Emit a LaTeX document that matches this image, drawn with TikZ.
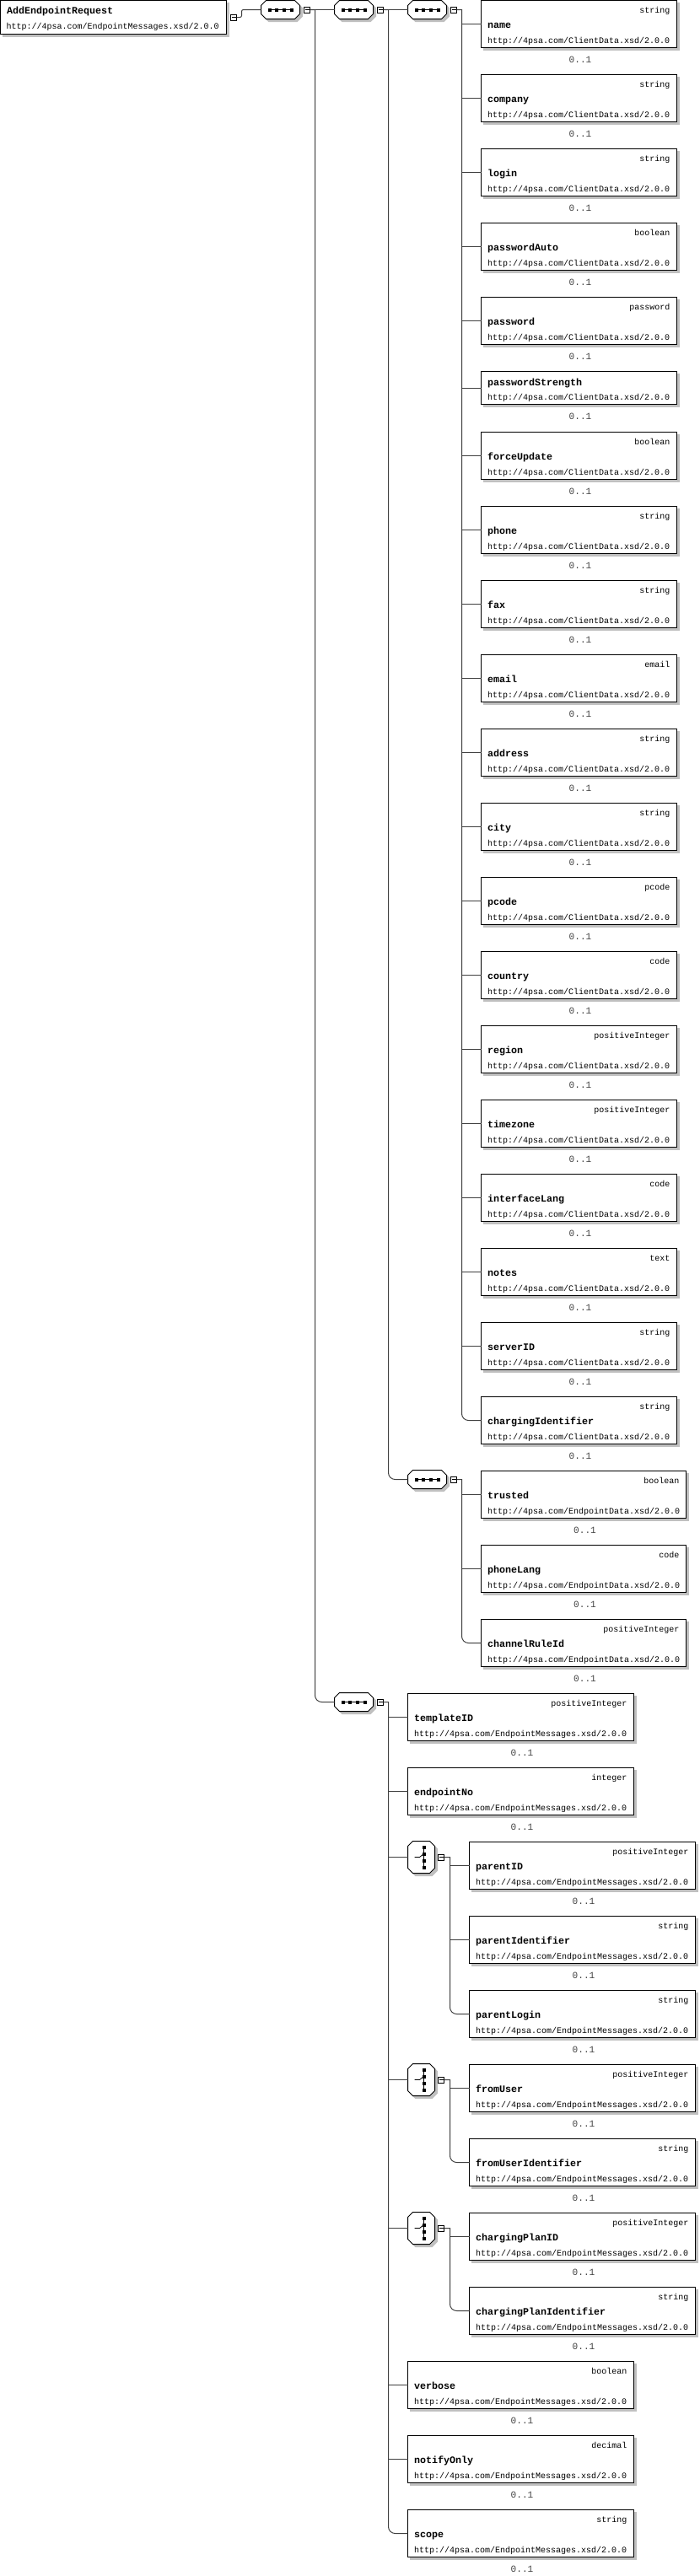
\documentclass[tikz,border=0pt]{standalone}
\usepackage{fontspec}
\setmonofont{Liberation Mono}
\usetikzlibrary{positioning}
\usetikzlibrary{shadows}
\definecolor{shadegray}{HTML}{C0C0C0}
\definecolor{linegray}{HTML}{404040}
% octagon for the compositor nodes
\makeatletter
\pgfdeclareshape{octagonbox}{
  \inheritsavedanchors[from=rectangle]
  \inheritanchor[from=rectangle]{center}
  \inheritanchor[from=rectangle]{west}
  \inheritanchor[from=rectangle]{east}
  \inheritanchorborder[from=rectangle]
  \backgroundpath{
    \southwest \edef\octl{\the\pgf@x}\edef\octb{\the\pgf@y}
    \northeast \edef\octr{\the\pgf@x}\edef\octt{\the\pgf@y}
    \pgfpathmoveto{\pgfpoint{\octl+6pt}{\octt}}
    \pgfpathlineto{\pgfpoint{\octr-6pt}{\octt}}
    \pgfpathlineto{\pgfpoint{\octr}{\octt-6pt}}
    \pgfpathlineto{\pgfpoint{\octr}{\octb+6pt}}
    \pgfpathlineto{\pgfpoint{\octr-6pt}{\octb}}
    \pgfpathlineto{\pgfpoint{\octl+6pt}{\octb}}
    \pgfpathlineto{\pgfpoint{\octl}{\octb+6pt}}
    \pgfpathlineto{\pgfpoint{\octl}{\octt-6pt}}
    \pgfpathclose
  }
}
\makeatother
\tikzset{
  --|-/.style={
    to path={
      (\tikztostart) -- ++(right:#1) |- (\tikztotarget)
      \tikztonodes
    }
  },
  --|-/.default=6pt,
  --|c/.style={
    to path={
      (\tikztostart) -- ++(right:#1) [rounded corners=8pt] |- (\tikztotarget)
      \tikztonodes
    }
  },
  --|c/.default=6pt,
  boxshade/.style={copy shadow={shadow xshift=3pt,shadow yshift=-3pt,opacity=1,draw=shadegray,fill=shadegray}},
  elembox/.style={rectangle,draw=black,fill=white,line width=1pt,inner sep=0pt,outer sep=0pt,boxshade,minimum height=56pt},
  clientbox/.style={elembox,minimum width=232pt},
  databox/.style={elembox,minimum width=243pt},
  msgbox/.style={elembox,minimum width=268pt},
  typetext/.style={anchor=base east,inner sep=0pt,font=\ttfamily\fontsize{10pt}{12pt}\selectfont},
  urltext/.style={anchor=base west,inner sep=0pt,font=\ttfamily\fontsize{10pt}{12pt}\selectfont},
  nametext/.style={anchor=base west,inner sep=0pt,font=\ttfamily\bfseries\fontsize{11.67pt}{14pt}\selectfont},
  occtext/.style={anchor=base,inner sep=0pt,text=linegray,font=\ttfamily\fontsize{11.1pt}{13pt}\selectfont},
  compbox/.style={shape=octagonbox,draw=black,fill=white,line width=1pt,inner sep=0pt,outer sep=0pt,boxshade,anchor=west},
  seqbox/.style={compbox,minimum width=46pt,minimum height=22pt},
  choicebox/.style={compbox,minimum width=32pt,minimum height=38pt},
  minusbox/.style={rectangle,draw=black,fill=white,line width=1pt,minimum size=7pt,inner sep=0pt,outer sep=0pt},
  conn/.style={draw=linegray,line width=1pt},
}
% one element box: id, style, position, type, label, schema file
\newcommand{\xsdelem}[6]{
  \node (#1) [#2,anchor=north west] at (#3) {};
  \node (#1-type) [typetext] at ([xshift=-8pt,yshift=-14.5pt]#1.north east) {#4};
  \node (#1-name) [nametext] at ([xshift=7.5pt,yshift=-33pt]#1.north west) {#5};
  \node (#1-url) [urltext] at ([xshift=7.5pt,yshift=-51pt]#1.north west) {http://4psa.com/#6/2.0.0};
  \node (#1-occ) [occtext] at ([xshift=1.5pt,yshift=-18pt]#1.south) {0..1};
}
% small black square of a compositor icon
\newcommand{\icondot}[1]{\fill[black] (#1) +(-2pt,-2pt) rectangle +(2pt,2pt);}
% sequence icon on a compositor node
\newcommand{\seqicon}[1]{
  \draw[line width=1pt] ([xshift=-13pt]#1.center) -- ([xshift=13pt]#1.center);
  \icondot{[xshift=-13pt]#1.center}
  \icondot{[xshift=-4.5pt]#1.center}
  \icondot{[xshift=4.5pt]#1.center}
  \icondot{[xshift=13pt]#1.center}
}
% choice icon on a compositor node
\newcommand{\choiceicon}[1]{
  \draw[line width=1pt] ([xshift=3pt,yshift=12pt]#1.center) -- ([xshift=3pt,yshift=-12pt]#1.center);
  \draw[line width=.8pt] ([xshift=-8pt]#1.center) -- ([xshift=-2pt]#1.center) -- ([xshift=3pt,yshift=4pt]#1.center);
  \icondot{[xshift=3pt,yshift=12pt]#1.center}
  \icondot{[xshift=3pt,yshift=4pt]#1.center}
  \icondot{[xshift=3pt,yshift=-4pt]#1.center}
  \icondot{[xshift=3pt,yshift=-12pt]#1.center}
}
\newcommand{\minusmark}[1]{
  \draw[line width=1pt,black] ([xshift=1pt]#1.west) -- ([xshift=-1pt]#1.east);
}
\begin{document}
\begin{tikzpicture}[x=1pt,y=-1pt,shift={(.5,.5)}]
\useasboundingbox (-.5,-.5) rectangle (829.5,3054.5);
% root element
\node (root) [elembox,minimum width=268pt,minimum height=40pt,anchor=north west] at (0,0) {};
\node (root-name) [nametext] at ([xshift=7.5pt,yshift=-16pt]root.north west) {AddEndpointRequest};
\node (root-url) [urltext] at ([xshift=7pt,yshift=-34pt]root.north west) {http://4psa.com/EndpointMessages.xsd/2.0.0};
\node (rootm) [minusbox,right=5pt of root] {};
% compositors
\node (seqa) [seqbox] at (309,11) {};
\node (seqam) [minusbox,right=5pt of seqa] {};
\node (seqb) [seqbox] at (396,11) {};
\node (seqbm) [minusbox,right=5pt of seqb] {};
\node (seqc) [seqbox] at (483,11) {};
\node (seqcm) [minusbox,right=5pt of seqc] {};
\node (seqd) [seqbox] at (483,1754) {};
\node (seqdm) [minusbox,right=5pt of seqd] {};
\node (seqe) [seqbox] at (396,2018) {};
\node (seqem) [minusbox,right=5pt of seqe] {};
\node (chfa) [choicebox] at (483,2202) {};
\node (chfam) [minusbox,right=4pt of chfa] {};
\node (chfb) [choicebox] at (483,2466) {};
\node (chfbm) [minusbox,right=4pt of chfb] {};
\node (chfc) [choicebox] at (483,2642) {};
\node (chfcm) [minusbox,right=4pt of chfc] {};
\seqicon{seqa} \seqicon{seqb} \seqicon{seqc} \seqicon{seqd} \seqicon{seqe}
\choiceicon{chfa} \choiceicon{chfb} \choiceicon{chfc}
\minusmark{rootm} \minusmark{seqam} \minusmark{seqbm} \minusmark{seqcm} \minusmark{seqdm}
\minusmark{seqem} \minusmark{chfam} \minusmark{chfbm} \minusmark{chfcm}
% client data elements
\xsdelem{name}{clientbox}{570,0}{string}{name}{ClientData.xsd}
\xsdelem{company}{clientbox}{570,88}{string}{company}{ClientData.xsd}
\xsdelem{login}{clientbox}{570,176}{string}{login}{ClientData.xsd}
\xsdelem{pwauto}{clientbox}{570,264}{boolean}{passwordAuto}{ClientData.xsd}
\xsdelem{pw}{clientbox}{570,352}{password}{password}{ClientData.xsd}
\node (pwstr) [clientbox,minimum height=39pt,anchor=north west] at (570,440) {};
\node (pwstr-name) [nametext] at ([xshift=7.5pt,yshift=-17pt]pwstr.north west) {passwordStrength};
\node (pwstr-url) [urltext] at ([xshift=7.5pt,yshift=-34pt]pwstr.north west) {http://4psa.com/ClientData.xsd/2.0.0};
\node (pwstr-occ) [occtext] at ([xshift=1.5pt,yshift=-18pt]pwstr.south) {0..1};
\xsdelem{force}{clientbox}{570,512}{boolean}{forceUpdate}{ClientData.xsd}
\xsdelem{phone}{clientbox}{570,600}{string}{phone}{ClientData.xsd}
\xsdelem{fax}{clientbox}{570,688}{string}{fax}{ClientData.xsd}
\xsdelem{email}{clientbox}{570,776}{email}{email}{ClientData.xsd}
\xsdelem{address}{clientbox}{570,864}{string}{address}{ClientData.xsd}
\xsdelem{city}{clientbox}{570,952}{string}{city}{ClientData.xsd}
\xsdelem{pcode}{clientbox}{570,1040}{pcode}{pcode}{ClientData.xsd}
\xsdelem{country}{clientbox}{570,1128}{code}{country}{ClientData.xsd}
\xsdelem{region}{clientbox}{570,1216}{positiveInteger}{region}{ClientData.xsd}
\xsdelem{timezone}{clientbox}{570,1304}{positiveInteger}{timezone}{ClientData.xsd}
\xsdelem{ifl}{clientbox}{570,1392}{code}{interfaceLang}{ClientData.xsd}
\xsdelem{notes}{clientbox}{570,1480}{text}{notes}{ClientData.xsd}
\xsdelem{server}{clientbox}{570,1568}{string}{serverID}{ClientData.xsd}
\xsdelem{chgid}{clientbox}{570,1656}{string}{chargingIdentifier}{ClientData.xsd}
% endpoint data elements
\xsdelem{trusted}{databox}{570,1744}{boolean}{trusted}{EndpointData.xsd}
\xsdelem{plang}{databox}{570,1832}{code}{phoneLang}{EndpointData.xsd}
\xsdelem{crule}{databox}{570,1920}{positiveInteger}{channelRuleId}{EndpointData.xsd}
% message elements
\xsdelem{templ}{msgbox}{483,2008}{positiveInteger}{templateID}{EndpointMessages.xsd}
\xsdelem{epno}{msgbox}{483,2096}{integer}{endpointNo}{EndpointMessages.xsd}
\xsdelem{parid}{msgbox}{556,2184}{positiveInteger}{parentID}{EndpointMessages.xsd}
\xsdelem{pariden}{msgbox}{556,2272}{string}{parentIdentifier}{EndpointMessages.xsd}
\xsdelem{parlog}{msgbox}{556,2360}{string}{parentLogin}{EndpointMessages.xsd}
\xsdelem{fromu}{msgbox}{556,2448}{positiveInteger}{fromUser}{EndpointMessages.xsd}
\xsdelem{fromi}{msgbox}{556,2536}{string}{fromUserIdentifier}{EndpointMessages.xsd}
\xsdelem{planid}{msgbox}{556,2624}{positiveInteger}{chargingPlanID}{EndpointMessages.xsd}
\xsdelem{planiden}{msgbox}{556,2712}{string}{chargingPlanIdentifier}{EndpointMessages.xsd}
\xsdelem{verbose}{msgbox}{483,2800}{boolean}{verbose}{EndpointMessages.xsd}
\xsdelem{notify}{msgbox}{483,2888}{decimal}{notifyOnly}{EndpointMessages.xsd}
\xsdelem{scopeel}{msgbox}{483,2976}{string}{scope}{EndpointMessages.xsd}
% connectors
\draw[conn,rounded corners=2pt] (rootm.east) to[--|-={6pt}] (seqa.west);
\draw[conn] (seqam.east) to[--|-] (seqb.west);
\draw[conn] (seqam.east) to[--|c] (seqe.west);
\draw[conn] (seqbm.east) to[--|-] (seqc.west);
\draw[conn] (seqbm.east) to[--|c] (seqd.west);
\draw[conn] (seqcm.east) to[--|-] (name.west);
\draw[conn] (seqcm.east) to[--|-] (company.west);
\draw[conn] (seqcm.east) to[--|-] (login.west);
\draw[conn] (seqcm.east) to[--|-] (pwauto.west);
\draw[conn] (seqcm.east) to[--|-] (pw.west);
\draw[conn] (seqcm.east) to[--|-] (pwstr.west);
\draw[conn] (seqcm.east) to[--|-] (force.west);
\draw[conn] (seqcm.east) to[--|-] (phone.west);
\draw[conn] (seqcm.east) to[--|-] (fax.west);
\draw[conn] (seqcm.east) to[--|-] (email.west);
\draw[conn] (seqcm.east) to[--|-] (address.west);
\draw[conn] (seqcm.east) to[--|-] (city.west);
\draw[conn] (seqcm.east) to[--|-] (pcode.west);
\draw[conn] (seqcm.east) to[--|-] (country.west);
\draw[conn] (seqcm.east) to[--|-] (region.west);
\draw[conn] (seqcm.east) to[--|-] (timezone.west);
\draw[conn] (seqcm.east) to[--|-] (ifl.west);
\draw[conn] (seqcm.east) to[--|-] (notes.west);
\draw[conn] (seqcm.east) to[--|-] (server.west);
\draw[conn] (seqcm.east) to[--|c] (chgid.west);
\draw[conn] (seqdm.east) to[--|-] (trusted.west);
\draw[conn] (seqdm.east) to[--|-] (plang.west);
\draw[conn] (seqdm.east) to[--|c] (crule.west);
\draw[conn] (seqem.east) to[--|-] (templ.west);
\draw[conn] (seqem.east) to[--|-] (epno.west);
\draw[conn] (seqem.east) to[--|-] (chfa.west);
\draw[conn] (seqem.east) to[--|-] (chfb.west);
\draw[conn] (seqem.east) to[--|-] (chfc.west);
\draw[conn] (seqem.east) to[--|-] (verbose.west);
\draw[conn] (seqem.east) to[--|-] (notify.west);
\draw[conn] (seqem.east) to[--|c] (scopeel.west);
\draw[conn] (chfam.east) to[--|-={7pt}] (parid.west);
\draw[conn] (chfam.east) to[--|-={7pt}] (pariden.west);
\draw[conn] (chfam.east) to[--|c={7pt}] (parlog.west);
\draw[conn] (chfbm.east) to[--|-={7pt}] (fromu.west);
\draw[conn] (chfbm.east) to[--|c={7pt}] (fromi.west);
\draw[conn] (chfcm.east) to[--|-={7pt}] (planid.west);
\draw[conn] (chfcm.east) to[--|c={7pt}] (planiden.west);
\end{tikzpicture}
\end{document}
